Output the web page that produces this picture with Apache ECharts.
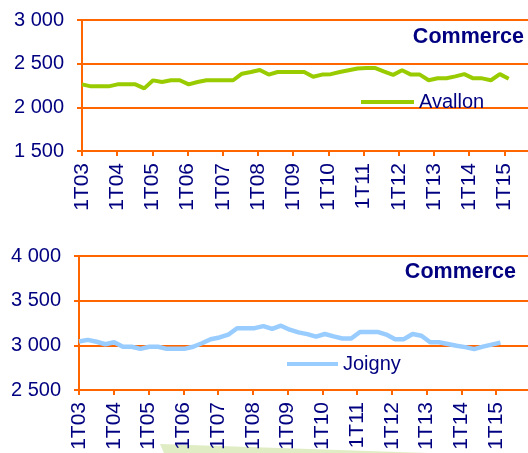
<!DOCTYPE html>
<html>
<head>
<meta charset="utf-8">
<script src="https://cdn.jsdelivr.net/npm/echarts@6/dist/echarts.min.js"></script>
<style>
html,body{margin:0;padding:0;background:#fff;}
#c{width:528px;height:453px;}
</style>
</head>
<body>
<div id="c"></div>
<script>
// Tick labels (one per year, first quarter)
const xLabels = ['1T03','1T04','1T05','1T06','1T07','1T08','1T09','1T10','1T11','1T12','1T13','1T14','1T15'];
// Quarterly values 1T03 .. 1T15
const avallon = [2263,2240,2240,2240,2263,2263,2263,2217,2309,2290,2310,2310,2263,2290,2310,2310,2310,2310,2385,2405,2428,2375,2405,2405,2405,2405,2350,2375,2380,2405,2425,2445,2450,2450,2410,2372,2424,2375,2375,2310,2333,2333,2355,2380,2332,2332,2310,2380,2328];
const joigny = [3042,3061,3040,3012,3035,2984,2984,2961,2984,2984,2961,2961,2961,2984,3023,3069,3088,3119,3192,3192,3192,3215,3185,3220,3175,3145,3125,3098,3127,3100,3076,3076,3150,3150,3150,3120,3069,3069,3127,3107,3035,3035,3015,2995,2980,2958,2985,3008,3030];
const seriesNames = ['Avallon','Joigny'];
const panelTitle = 'Commerce';

const ORANGE = '#FF6600';
const NAVY = '#000080';
const FONT = "'Liberation Sans', Arial, sans-serif";
const tickVals = xLabels.map((_, i) => i * 4);

function fmtY(v){ const s = String(v); return s.slice(0, s.length-3) + ' ' + s.slice(-3); }

function visX(gridIndex, max){
  return {
    type:'value', gridIndex, min:0, max,
    axisLine:{show:true, lineStyle:{color:ORANGE, width:2}},
    axisTick:{show:true, customValues:tickVals, length:5, lineStyle:{color:ORANGE, width:2}},
    axisLabel:{customValues:tickVals, rotate:90, margin:12, fontSize:21, color:NAVY, fontFamily:FONT,
      formatter:(v)=> xLabels[Math.round(v/4)] || ''},
    splitLine:{show:false}
  };
}
function hidX(gridIndex, max){
  return {type:'value', gridIndex, min:0, max, show:false, splitLine:{show:false}};
}
function yAx(gridIndex, min, max){
  return {
    type:'value', gridIndex, min, max, interval:500,
    axisLine:{show:true, lineStyle:{color:ORANGE, width:2}},
    axisTick:{show:true, length:5, lineStyle:{color:ORANGE, width:2}},
    axisLabel:{fontSize:20, color:NAVY, fontFamily:FONT, margin:18, formatter:fmtY},
    splitLine:{show:true, lineStyle:{color:ORANGE, width:2}}
  };
}

const chart = echarts.init(document.getElementById('c'), null, {renderer:'canvas'});
chart.setOption({
  animation:false,
  backgroundColor:'#ffffff',
  graphic:[
    {type:'polygon', z:-1, shape:{points:[[160,444],[428,453],[164,453]]}, style:{fill:'#E0ECC4'}}
  ],
  title:[
    {text:panelTitle, right:4, top:26, padding:0, textStyle:{fontSize:21.5, fontWeight:'bold', color:NAVY, fontFamily:FONT}},
    {text:panelTitle, right:12, top:261, padding:0, textStyle:{fontSize:21.5, fontWeight:'bold', color:NAVY, fontFamily:FONT}}
  ],
  legend:[
    {data:[seriesNames[0]], left:361, top:92, padding:0, icon:'rect', itemWidth:53, itemHeight:4,
     textStyle:{fontSize:20, color:NAVY, fontFamily:FONT}},
    {data:[seriesNames[1]], left:287, top:354, padding:0, icon:'rect', itemWidth:51, itemHeight:4,
     textStyle:{fontSize:20, color:NAVY, fontFamily:FONT}}
  ],
  grid:[
    {left:82, top:20, right:0, height:131},
    {left:79, top:256, right:0, height:134}
  ],
  xAxis:[
    visX(0, 446/8.8), hidX(0, 446/8.89),
    visX(1, 449/8.69), hidX(1, 449/8.78)
  ],
  yAxis:[ yAx(0,1500,3000), yAx(1,2500,4000) ],
  series:[
    {name:seriesNames[0], type:'line', xAxisIndex:1, yAxisIndex:0, symbol:'none',
     data:avallon.map((v,i)=>[i,v]), color:'#99CC00', lineStyle:{color:'#99CC00', width:4}},
    {name:seriesNames[1], type:'line', xAxisIndex:3, yAxisIndex:1, symbol:'none',
     data:joigny.map((v,i)=>[i,v]), color:'#99CCFF', lineStyle:{color:'#99CCFF', width:4.5}}
  ]
});
</script>
</body>
</html>
